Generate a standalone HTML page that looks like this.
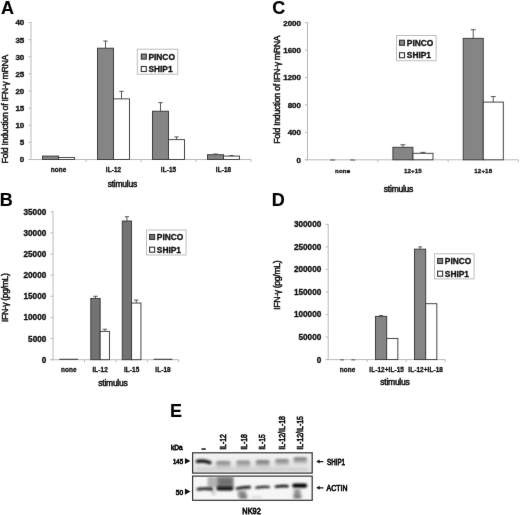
<!DOCTYPE html>
<html><head><meta charset="utf-8"><title>Figure</title>
<style>
html,body{margin:0;padding:0;background:#fff;}
body{width:520px;height:515px;overflow:hidden;}
svg{display:block;font-family:"Liberation Sans", sans-serif;}
text{stroke:#111;stroke-width:var(--sw,0.42px);paint-order:stroke;}
</style></head><body>
<svg width="520" height="515" viewBox="0 0 520 515">
<defs>
<filter id="b1" filterUnits="userSpaceOnUse" x="150" y="400" width="220" height="115"><feGaussianBlur stdDeviation="0.9"/></filter>
<filter id="b4" filterUnits="userSpaceOnUse" x="150" y="400" width="220" height="115"><feGaussianBlur stdDeviation="1.25"/></filter>
<filter id="b2" filterUnits="userSpaceOnUse" x="150" y="400" width="220" height="115"><feGaussianBlur stdDeviation="1.6"/></filter>
<filter id="b3" filterUnits="userSpaceOnUse" x="150" y="400" width="220" height="115"><feGaussianBlur stdDeviation="2.6"/></filter>
<filter id="soft" filterUnits="userSpaceOnUse" x="-10" y="-10" width="540" height="535" color-interpolation-filters="sRGB"><feConvolveMatrix order="3" kernelMatrix="0.0028 0.0470 0.0028 0.0470 0.8008 0.0470 0.0028 0.0470 0.0028" edgeMode="duplicate" preserveAlpha="true"/></filter>
</defs>
<rect width="520" height="515" fill="#fff"/>
<g filter="url(#soft)">
<rect x="-10" y="-10" width="540" height="535" fill="#fff"/>

<text x="0.9" y="14.0" style="font-size:18px;font-weight:bold;--sw:0.15px" fill="#000">A</text>
<text x="272.3" y="14.3" style="font-size:18px;font-weight:bold;--sw:0.15px" fill="#000">C</text>
<text x="-0.3" y="205.8" style="font-size:18px;font-weight:bold;--sw:0.15px" fill="#000">B</text>
<text x="271.8" y="205.7" style="font-size:18px;font-weight:bold;--sw:0.15px" fill="#000">D</text>
<text x="170.1" y="416.7" style="font-size:18px;font-weight:bold;--sw:0.15px" fill="#000">E</text>
<line x1="31" y1="22.0" x2="31" y2="160.0" stroke="#bababa" stroke-width="1"/>
<line x1="28.5" y1="159.5" x2="251" y2="159.5" stroke="#bababa" stroke-width="1"/>
<line x1="28.5" y1="159.5" x2="31" y2="159.5" stroke="#bababa" stroke-width="1"/>
<text x="24.3" y="162.38" text-anchor="end" style="font-size:8.0px;font-weight:bold;--sw:0.34px;" fill="#111">0</text>
<line x1="28.5" y1="142.375" x2="31" y2="142.375" stroke="#bababa" stroke-width="1"/>
<text x="24.3" y="145.255" text-anchor="end" style="font-size:8.0px;font-weight:bold;--sw:0.34px;" fill="#111">5</text>
<line x1="28.5" y1="125.25" x2="31" y2="125.25" stroke="#bababa" stroke-width="1"/>
<text x="24.3" y="128.13" text-anchor="end" style="font-size:8.0px;font-weight:bold;--sw:0.34px;" fill="#111">10</text>
<line x1="28.5" y1="108.125" x2="31" y2="108.125" stroke="#bababa" stroke-width="1"/>
<text x="24.3" y="111.005" text-anchor="end" style="font-size:8.0px;font-weight:bold;--sw:0.34px;" fill="#111">15</text>
<line x1="28.5" y1="91.0" x2="31" y2="91.0" stroke="#bababa" stroke-width="1"/>
<text x="24.3" y="93.88" text-anchor="end" style="font-size:8.0px;font-weight:bold;--sw:0.34px;" fill="#111">20</text>
<line x1="28.5" y1="73.875" x2="31" y2="73.875" stroke="#bababa" stroke-width="1"/>
<text x="24.3" y="76.755" text-anchor="end" style="font-size:8.0px;font-weight:bold;--sw:0.34px;" fill="#111">25</text>
<line x1="28.5" y1="56.75" x2="31" y2="56.75" stroke="#bababa" stroke-width="1"/>
<text x="24.3" y="59.63" text-anchor="end" style="font-size:8.0px;font-weight:bold;--sw:0.34px;" fill="#111">30</text>
<line x1="28.5" y1="39.625" x2="31" y2="39.625" stroke="#bababa" stroke-width="1"/>
<text x="24.3" y="42.505" text-anchor="end" style="font-size:8.0px;font-weight:bold;--sw:0.34px;" fill="#111">35</text>
<line x1="28.5" y1="22.5" x2="31" y2="22.5" stroke="#bababa" stroke-width="1"/>
<text x="24.3" y="25.38" text-anchor="end" style="font-size:8.0px;font-weight:bold;--sw:0.34px;" fill="#111">40</text>
<line x1="86.0" y1="159.5" x2="86.0" y2="162.0" stroke="#bababa" stroke-width="1"/>
<line x1="141.0" y1="159.5" x2="141.0" y2="162.0" stroke="#bababa" stroke-width="1"/>
<line x1="196.0" y1="159.5" x2="196.0" y2="162.0" stroke="#bababa" stroke-width="1"/>
<line x1="251.0" y1="159.5" x2="251.0" y2="162.0" stroke="#bababa" stroke-width="1"/>
<rect x="42.50" y="156.07" width="16.00" height="3.42" fill="#858585" stroke="#333" stroke-width="0.9"/>
<rect x="58.50" y="157.44" width="16.00" height="2.06" fill="#fff" stroke="#333" stroke-width="0.9"/>
<text x="58.5" y="171.9" text-anchor="middle" style="font-size:6.4px;font-weight:bold;--sw:0.34px;letter-spacing:0.1px;--sw:0.3px;" fill="#111">none</text>
<rect x="97.50" y="48.19" width="16.00" height="111.31" fill="#858585" stroke="#333" stroke-width="0.9"/>
<line x1="105.5" y1="48.1875" x2="105.5" y2="40.995" stroke="#444" stroke-width="0.9"/>
<line x1="103.3" y1="40.995" x2="107.7" y2="40.995" stroke="#444" stroke-width="0.9"/>
<rect x="113.50" y="98.88" width="16.00" height="60.62" fill="#fff" stroke="#333" stroke-width="0.9"/>
<line x1="121.5" y1="98.8775" x2="121.5" y2="91.3425" stroke="#444" stroke-width="0.9"/>
<line x1="119.3" y1="91.3425" x2="123.7" y2="91.3425" stroke="#444" stroke-width="0.9"/>
<text x="113.5" y="171.9" text-anchor="middle" style="font-size:6.4px;font-weight:bold;--sw:0.34px;letter-spacing:0.1px;--sw:0.3px;" fill="#111">IL-12</text>
<rect x="152.50" y="111.21" width="16.00" height="48.29" fill="#858585" stroke="#333" stroke-width="0.9"/>
<line x1="160.5" y1="111.2075" x2="160.5" y2="102.645" stroke="#444" stroke-width="0.9"/>
<line x1="158.3" y1="102.645" x2="162.7" y2="102.645" stroke="#444" stroke-width="0.9"/>
<rect x="168.50" y="139.63" width="16.00" height="19.87" fill="#fff" stroke="#333" stroke-width="0.9"/>
<line x1="176.5" y1="139.635" x2="176.5" y2="136.89499999999998" stroke="#444" stroke-width="0.9"/>
<line x1="174.3" y1="136.89499999999998" x2="178.7" y2="136.89499999999998" stroke="#444" stroke-width="0.9"/>
<text x="168.5" y="171.9" text-anchor="middle" style="font-size:6.4px;font-weight:bold;--sw:0.34px;letter-spacing:0.1px;--sw:0.3px;" fill="#111">IL-15</text>
<rect x="207.50" y="154.71" width="16.00" height="4.79" fill="#858585" stroke="#333" stroke-width="0.9"/>
<line x1="215.5" y1="154.705" x2="215.5" y2="154.02" stroke="#444" stroke-width="0.9"/>
<line x1="213.3" y1="154.02" x2="217.7" y2="154.02" stroke="#444" stroke-width="0.9"/>
<rect x="223.50" y="156.07" width="16.00" height="3.42" fill="#fff" stroke="#333" stroke-width="0.9"/>
<line x1="231.5" y1="156.075" x2="231.5" y2="155.56125" stroke="#444" stroke-width="0.9"/>
<line x1="229.3" y1="155.56125" x2="233.7" y2="155.56125" stroke="#444" stroke-width="0.9"/>
<text x="223.5" y="171.9" text-anchor="middle" style="font-size:6.4px;font-weight:bold;--sw:0.34px;letter-spacing:0.1px;--sw:0.3px;" fill="#111">IL-18</text>
<rect x="137.3" y="49.2" width="40.4" height="25.0" fill="#fff" stroke="#bdbdbd" stroke-width="1"/>
<rect x="141.30" y="54.10" width="5.00" height="5.00" fill="#858585" stroke="#333" stroke-width="1.1"/>
<text x="148.4" y="59.5" text-anchor="start" style="font-size:8.4px;font-weight:bold;--sw:0.34px;" fill="#111">PINCO</text>
<rect x="141.30" y="66.50" width="5.00" height="5.00" fill="#fff" stroke="#333" stroke-width="1.1"/>
<text x="148.4" y="71.9" text-anchor="start" style="font-size:8.4px;font-weight:bold;--sw:0.34px;" fill="#111">SHIP1</text>
<text x="7.9" y="109" text-anchor="middle" style="font-size:8.8px;--sw:0.45px;" fill="#111" transform="rotate(-90 7.9 109)" textLength="109" lengthAdjust="spacing">Fold Induction of IFN-&#947; mRNA</text>
<text x="122.4" y="187.3" text-anchor="middle" style="font-size:8.5px;--sw:0.5px;" fill="#111" textLength="29.5" lengthAdjust="spacing">stimulus</text>
<line x1="307.5" y1="22.2" x2="307.5" y2="160.3" stroke="#bababa" stroke-width="1"/>
<line x1="305.0" y1="159.8" x2="518.4" y2="159.8" stroke="#bababa" stroke-width="1"/>
<line x1="305.0" y1="159.8" x2="307.5" y2="159.8" stroke="#bababa" stroke-width="1"/>
<text x="301" y="162.68" text-anchor="end" style="font-size:8.0px;font-weight:bold;--sw:0.34px;" fill="#111">0</text>
<line x1="305.0" y1="132.38" x2="307.5" y2="132.38" stroke="#bababa" stroke-width="1"/>
<text x="301" y="135.26" text-anchor="end" style="font-size:8.0px;font-weight:bold;--sw:0.34px;" fill="#111">400</text>
<line x1="305.0" y1="104.96000000000001" x2="307.5" y2="104.96000000000001" stroke="#bababa" stroke-width="1"/>
<text x="301" y="107.84" text-anchor="end" style="font-size:8.0px;font-weight:bold;--sw:0.34px;" fill="#111">800</text>
<line x1="305.0" y1="77.53999999999999" x2="307.5" y2="77.53999999999999" stroke="#bababa" stroke-width="1"/>
<text x="301" y="80.41999999999999" text-anchor="end" style="font-size:8.0px;font-weight:bold;--sw:0.34px;" fill="#111">1200</text>
<line x1="305.0" y1="50.11999999999999" x2="307.5" y2="50.11999999999999" stroke="#bababa" stroke-width="1"/>
<text x="301" y="52.99999999999999" text-anchor="end" style="font-size:8.0px;font-weight:bold;--sw:0.34px;" fill="#111">1600</text>
<line x1="305.0" y1="22.69999999999999" x2="307.5" y2="22.69999999999999" stroke="#bababa" stroke-width="1"/>
<text x="301" y="25.579999999999988" text-anchor="end" style="font-size:8.0px;font-weight:bold;--sw:0.34px;" fill="#111">2000</text>
<line x1="377.8" y1="159.8" x2="377.8" y2="162.3" stroke="#bababa" stroke-width="1"/>
<line x1="448.1" y1="159.8" x2="448.1" y2="162.3" stroke="#bababa" stroke-width="1"/>
<line x1="518.4" y1="159.8" x2="518.4" y2="162.3" stroke="#bababa" stroke-width="1"/>
<line x1="330.12499999999994" y1="160.0" x2="335.12499999999994" y2="160.0" stroke="#707070" stroke-width="1.3"/>
<line x1="350.17499999999995" y1="160.0" x2="355.17499999999995" y2="160.0" stroke="#707070" stroke-width="1.3"/>
<text x="342.65" y="172.6" text-anchor="middle" style="font-size:6.2px;font-weight:bold;--sw:0.34px;letter-spacing:0.1px;--sw:0.3px;" fill="#111">none</text>
<rect x="392.90" y="147.26" width="20.05" height="12.54" fill="#858585" stroke="#333" stroke-width="0.9"/>
<line x1="402.92499999999995" y1="147.25535000000002" x2="402.92499999999995" y2="144.78755" stroke="#444" stroke-width="0.9"/>
<line x1="400.42499999999995" y1="144.78755" x2="405.42499999999995" y2="144.78755" stroke="#444" stroke-width="0.9"/>
<rect x="412.95" y="153.29" width="20.05" height="6.51" fill="#fff" stroke="#333" stroke-width="0.9"/>
<line x1="422.97499999999997" y1="153.28775000000002" x2="422.97499999999997" y2="152.3966" stroke="#444" stroke-width="0.9"/>
<line x1="420.47499999999997" y1="152.3966" x2="425.47499999999997" y2="152.3966" stroke="#444" stroke-width="0.9"/>
<text x="412.95" y="172.6" text-anchor="middle" style="font-size:6.2px;font-weight:bold;--sw:0.34px;letter-spacing:0.1px;--sw:0.3px;" fill="#111">12+15</text>
<rect x="463.20" y="38.33" width="20.05" height="121.47" fill="#858585" stroke="#333" stroke-width="0.9"/>
<line x1="473.22499999999997" y1="38.32939999999999" x2="473.22499999999997" y2="29.76064999999999" stroke="#444" stroke-width="0.9"/>
<line x1="470.72499999999997" y1="29.76064999999999" x2="475.72499999999997" y2="29.76064999999999" stroke="#444" stroke-width="0.9"/>
<rect x="483.25" y="102.08" width="20.05" height="57.72" fill="#fff" stroke="#333" stroke-width="0.9"/>
<line x1="493.275" y1="102.0809" x2="493.275" y2="96.5969" stroke="#444" stroke-width="0.9"/>
<line x1="490.775" y1="96.5969" x2="495.775" y2="96.5969" stroke="#444" stroke-width="0.9"/>
<text x="483.25" y="172.6" text-anchor="middle" style="font-size:6.2px;font-weight:bold;--sw:0.34px;letter-spacing:0.1px;--sw:0.3px;" fill="#111">12+18</text>
<rect x="396.5" y="35.5" width="39.6" height="25.2" fill="#fff" stroke="#bdbdbd" stroke-width="1"/>
<rect x="399.50" y="40.25" width="5.00" height="5.00" fill="#858585" stroke="#333" stroke-width="1.1"/>
<text x="406.8" y="45.65" text-anchor="start" style="font-size:8.4px;font-weight:bold;--sw:0.34px;" fill="#111">PINCO</text>
<rect x="399.50" y="52.75" width="5.00" height="5.00" fill="#fff" stroke="#333" stroke-width="1.1"/>
<text x="406.8" y="58.15" text-anchor="start" style="font-size:8.4px;font-weight:bold;--sw:0.34px;" fill="#111">SHIP1</text>
<text x="279.5" y="89.5" text-anchor="middle" style="font-size:8.8px;--sw:0.45px;" fill="#111" transform="rotate(-90 279.5 89.5)" textLength="108.5" lengthAdjust="spacing">Fold Induction of IFN-&#947; mRNA</text>
<text x="398.6" y="191.5" text-anchor="middle" style="font-size:8.5px;--sw:0.5px;" fill="#111" textLength="29.5" lengthAdjust="spacing">stimulus</text>
<line x1="53" y1="211.2" x2="53" y2="360.2" stroke="#bababa" stroke-width="1"/>
<line x1="50.5" y1="359.7" x2="178.75" y2="359.7" stroke="#bababa" stroke-width="1"/>
<line x1="50.5" y1="359.7" x2="53" y2="359.7" stroke="#bababa" stroke-width="1"/>
<text x="46.3" y="362.652" text-anchor="end" style="font-size:8.2px;font-weight:bold;--sw:0.34px;" fill="#111">0</text>
<line x1="50.5" y1="338.5571428571428" x2="53" y2="338.5571428571428" stroke="#bababa" stroke-width="1"/>
<text x="46.3" y="341.5091428571428" text-anchor="end" style="font-size:8.2px;font-weight:bold;--sw:0.34px;" fill="#111">5000</text>
<line x1="50.5" y1="317.4142857142857" x2="53" y2="317.4142857142857" stroke="#bababa" stroke-width="1"/>
<text x="46.3" y="320.3662857142857" text-anchor="end" style="font-size:8.2px;font-weight:bold;--sw:0.34px;" fill="#111">10000</text>
<line x1="50.5" y1="296.27142857142854" x2="53" y2="296.27142857142854" stroke="#bababa" stroke-width="1"/>
<text x="46.3" y="299.22342857142854" text-anchor="end" style="font-size:8.2px;font-weight:bold;--sw:0.34px;" fill="#111">15000</text>
<line x1="50.5" y1="275.12857142857143" x2="53" y2="275.12857142857143" stroke="#bababa" stroke-width="1"/>
<text x="46.3" y="278.08057142857143" text-anchor="end" style="font-size:8.2px;font-weight:bold;--sw:0.34px;" fill="#111">20000</text>
<line x1="50.5" y1="253.98571428571427" x2="53" y2="253.98571428571427" stroke="#bababa" stroke-width="1"/>
<text x="46.3" y="256.93771428571426" text-anchor="end" style="font-size:8.2px;font-weight:bold;--sw:0.34px;" fill="#111">25000</text>
<line x1="50.5" y1="232.84285714285713" x2="53" y2="232.84285714285713" stroke="#bababa" stroke-width="1"/>
<text x="46.3" y="235.79485714285713" text-anchor="end" style="font-size:8.2px;font-weight:bold;--sw:0.34px;" fill="#111">30000</text>
<line x1="50.5" y1="211.7" x2="53" y2="211.7" stroke="#bababa" stroke-width="1"/>
<text x="46.3" y="214.652" text-anchor="end" style="font-size:8.2px;font-weight:bold;--sw:0.34px;" fill="#111">35000</text>
<line x1="84.4375" y1="359.7" x2="84.4375" y2="362.2" stroke="#bababa" stroke-width="1"/>
<line x1="115.875" y1="359.7" x2="115.875" y2="362.2" stroke="#bababa" stroke-width="1"/>
<line x1="147.3125" y1="359.7" x2="147.3125" y2="362.2" stroke="#bababa" stroke-width="1"/>
<line x1="178.75" y1="359.7" x2="178.75" y2="362.2" stroke="#bababa" stroke-width="1"/>
<line x1="59.36875" y1="359.3" x2="68.71875" y2="359.3" stroke="#3c3c3c" stroke-width="1.1"/>
<line x1="68.71875" y1="359.3" x2="78.06875" y2="359.3" stroke="#3c3c3c" stroke-width="1.1"/>
<text x="68.71875" y="372.1" text-anchor="middle" style="font-size:6.4px;font-weight:bold;--sw:0.34px;letter-spacing:0.1px;--sw:0.3px;" fill="#111">none</text>
<rect x="90.81" y="298.39" width="9.35" height="61.31" fill="#737373" stroke="#333" stroke-width="0.9"/>
<line x1="95.48125" y1="298.38571428571424" x2="95.48125" y2="296.27142857142854" stroke="#444" stroke-width="0.9"/>
<line x1="93.28125" y1="296.27142857142854" x2="97.68125" y2="296.27142857142854" stroke="#444" stroke-width="0.9"/>
<rect x="100.16" y="331.37" width="9.35" height="28.33" fill="#fff" stroke="#333" stroke-width="0.9"/>
<line x1="104.83125" y1="331.36857142857144" x2="104.83125" y2="329.25428571428574" stroke="#444" stroke-width="0.9"/>
<line x1="102.63125" y1="329.25428571428574" x2="107.03125" y2="329.25428571428574" stroke="#444" stroke-width="0.9"/>
<text x="100.15625" y="372.1" text-anchor="middle" style="font-size:6.4px;font-weight:bold;--sw:0.34px;letter-spacing:0.1px;--sw:0.3px;" fill="#111">IL-12</text>
<rect x="122.24" y="221.00" width="9.35" height="138.70" fill="#737373" stroke="#333" stroke-width="0.9"/>
<line x1="126.91875" y1="221.00285714285712" x2="126.91875" y2="216.7742857142857" stroke="#444" stroke-width="0.9"/>
<line x1="124.71875" y1="216.7742857142857" x2="129.11875" y2="216.7742857142857" stroke="#444" stroke-width="0.9"/>
<rect x="131.59" y="303.04" width="9.35" height="56.66" fill="#fff" stroke="#333" stroke-width="0.9"/>
<line x1="136.26875" y1="303.03714285714284" x2="136.26875" y2="300.07714285714286" stroke="#444" stroke-width="0.9"/>
<line x1="134.06875000000002" y1="300.07714285714286" x2="138.46875" y2="300.07714285714286" stroke="#444" stroke-width="0.9"/>
<text x="131.59375" y="372.1" text-anchor="middle" style="font-size:6.4px;font-weight:bold;--sw:0.34px;letter-spacing:0.1px;--sw:0.3px;" fill="#111">IL-15</text>
<line x1="153.68125" y1="359.3" x2="163.03125" y2="359.3" stroke="#3c3c3c" stroke-width="1.1"/>
<line x1="163.03125" y1="359.3" x2="172.38125" y2="359.3" stroke="#3c3c3c" stroke-width="1.1"/>
<text x="163.03125" y="372.1" text-anchor="middle" style="font-size:6.4px;font-weight:bold;--sw:0.34px;letter-spacing:0.1px;--sw:0.3px;" fill="#111">IL-18</text>
<rect x="146.5" y="230" width="39.6" height="25" fill="#fff" stroke="#bdbdbd" stroke-width="1"/>
<rect x="149.60" y="234.50" width="5.00" height="5.00" fill="#737373" stroke="#333" stroke-width="1.1"/>
<text x="156.8" y="239.9" text-anchor="start" style="font-size:8.4px;font-weight:bold;--sw:0.34px;" fill="#111">PINCO</text>
<rect x="149.60" y="247.20" width="5.00" height="5.00" fill="#fff" stroke="#333" stroke-width="1.1"/>
<text x="156.8" y="252.6" text-anchor="start" style="font-size:8.4px;font-weight:bold;--sw:0.34px;" fill="#111">SHIP1</text>
<text x="8.4" y="297.5" text-anchor="middle" style="font-size:8.8px;--sw:0.45px;" fill="#111" transform="rotate(-90 8.4 297.5)" textLength="49" lengthAdjust="spacing">IFN-&#947; (pg/mL)</text>
<text x="113" y="385.8" text-anchor="middle" style="font-size:8.5px;--sw:0.5px;" fill="#111" textLength="29.5" lengthAdjust="spacing">stimulus</text>
<line x1="328.2" y1="223.85" x2="328.2" y2="360.1" stroke="#bababa" stroke-width="1"/>
<line x1="325.7" y1="359.6" x2="445.2" y2="359.6" stroke="#bababa" stroke-width="1"/>
<line x1="325.7" y1="359.6" x2="328.2" y2="359.6" stroke="#bababa" stroke-width="1"/>
<text x="321.25" y="362.552" text-anchor="end" style="font-size:8.2px;font-weight:bold;--sw:0.34px;" fill="#111">0</text>
<line x1="325.7" y1="337.05833333333334" x2="328.2" y2="337.05833333333334" stroke="#bababa" stroke-width="1"/>
<text x="321.25" y="340.01033333333334" text-anchor="end" style="font-size:8.2px;font-weight:bold;--sw:0.34px;" fill="#111">50000</text>
<line x1="325.7" y1="314.51666666666665" x2="328.2" y2="314.51666666666665" stroke="#bababa" stroke-width="1"/>
<text x="321.25" y="317.46866666666665" text-anchor="end" style="font-size:8.2px;font-weight:bold;--sw:0.34px;" fill="#111">100000</text>
<line x1="325.7" y1="291.975" x2="328.2" y2="291.975" stroke="#bababa" stroke-width="1"/>
<text x="321.25" y="294.927" text-anchor="end" style="font-size:8.2px;font-weight:bold;--sw:0.34px;" fill="#111">150000</text>
<line x1="325.7" y1="269.43333333333334" x2="328.2" y2="269.43333333333334" stroke="#bababa" stroke-width="1"/>
<text x="321.25" y="272.38533333333334" text-anchor="end" style="font-size:8.2px;font-weight:bold;--sw:0.34px;" fill="#111">200000</text>
<line x1="325.7" y1="246.89166666666665" x2="328.2" y2="246.89166666666665" stroke="#bababa" stroke-width="1"/>
<text x="321.25" y="249.84366666666665" text-anchor="end" style="font-size:8.2px;font-weight:bold;--sw:0.34px;" fill="#111">250000</text>
<line x1="325.7" y1="224.35" x2="328.2" y2="224.35" stroke="#bababa" stroke-width="1"/>
<text x="321.25" y="227.302" text-anchor="end" style="font-size:8.2px;font-weight:bold;--sw:0.34px;" fill="#111">300000</text>
<line x1="367.2" y1="359.6" x2="367.2" y2="362.1" stroke="#bababa" stroke-width="1"/>
<line x1="406.2" y1="359.6" x2="406.2" y2="362.1" stroke="#bababa" stroke-width="1"/>
<line x1="445.2" y1="359.6" x2="445.2" y2="362.1" stroke="#bababa" stroke-width="1"/>
<line x1="340.225" y1="359.8" x2="344.025" y2="359.8" stroke="#707070" stroke-width="1.3"/>
<line x1="351.375" y1="359.8" x2="355.17499999999995" y2="359.8" stroke="#707070" stroke-width="1.3"/>
<text x="347.7" y="372" text-anchor="middle" style="font-size:6.4px;font-weight:bold;--sw:0.34px;letter-spacing:0.1px;--sw:0.3px;" fill="#111">none</text>
<rect x="375.55" y="316.32" width="11.15" height="43.28" fill="#858585" stroke="#333" stroke-width="0.9"/>
<line x1="381.125" y1="316.32" x2="381.125" y2="315.50849999999997" stroke="#444" stroke-width="0.9"/>
<line x1="379.225" y1="315.50849999999997" x2="383.025" y2="315.50849999999997" stroke="#444" stroke-width="0.9"/>
<rect x="386.70" y="338.41" width="11.15" height="21.19" fill="#fff" stroke="#333" stroke-width="0.9"/>
<text x="386.7" y="372" text-anchor="middle" style="font-size:6.4px;font-weight:bold;--sw:0.34px;letter-spacing:0.1px;--sw:0.3px;" fill="#111">IL-12+IL-15</text>
<rect x="414.55" y="249.15" width="11.15" height="110.45" fill="#858585" stroke="#333" stroke-width="0.9"/>
<line x1="420.125" y1="249.14583333333331" x2="420.125" y2="246.89166666666665" stroke="#444" stroke-width="0.9"/>
<line x1="418.225" y1="246.89166666666665" x2="422.025" y2="246.89166666666665" stroke="#444" stroke-width="0.9"/>
<rect x="425.70" y="303.70" width="11.15" height="55.90" fill="#fff" stroke="#333" stroke-width="0.9"/>
<text x="425.7" y="372" text-anchor="middle" style="font-size:6.4px;font-weight:bold;--sw:0.34px;letter-spacing:0.1px;--sw:0.3px;" fill="#111">IL-12+IL-18</text>
<rect x="434.5" y="253.8" width="39.6" height="25.1" fill="#fff" stroke="#bdbdbd" stroke-width="1"/>
<rect x="437.60" y="258.50" width="5.00" height="5.00" fill="#858585" stroke="#333" stroke-width="1.1"/>
<text x="444.8" y="263.9" text-anchor="start" style="font-size:8.4px;font-weight:bold;--sw:0.34px;" fill="#111">PINCO</text>
<rect x="437.60" y="271.20" width="5.00" height="5.00" fill="#fff" stroke="#333" stroke-width="1.1"/>
<text x="444.8" y="276.59999999999997" text-anchor="start" style="font-size:8.4px;font-weight:bold;--sw:0.34px;" fill="#111">SHIP1</text>
<text x="279.7" y="285" text-anchor="middle" style="font-size:8.8px;--sw:0.45px;" fill="#111" transform="rotate(-90 279.7 285)" textLength="49.6" lengthAdjust="spacing">IFN-&#947; (pg/mL)</text>
<text x="395" y="385.0" text-anchor="middle" style="font-size:8.5px;--sw:0.5px;" fill="#111" textLength="29.5" lengthAdjust="spacing">stimulus</text>
<!-- Panel E : western blot -->
<g>
<linearGradient id="bg1" x1="0" y1="0" x2="0" y2="1"><stop offset="0" stop-color="#f4f4f4"/><stop offset="0.45" stop-color="#eaeaea"/><stop offset="1" stop-color="#e2e2e2"/></linearGradient>
<rect x="192.6" y="452.8" width="119.6" height="20.3" fill="url(#bg1)" stroke="#333" stroke-width="1.2"/>
<rect x="192.6" y="476.1" width="119.6" height="24.2" fill="#f6f6f6" stroke="#333" stroke-width="1.2"/>
<clipPath id="c1"><rect x="193.2" y="453.4" width="118.4" height="19.1"/></clipPath>
<clipPath id="c2"><rect x="193.2" y="476.7" width="118.4" height="23"/></clipPath>
<g clip-path="url(#c1)">
  <!-- faint lower bands -->
  <rect x="197" y="467.6" width="111" height="3.2" fill="#cdcdcd" filter="url(#b2)"/>
  <!-- main bands -->
  <path d="M197.4 461.4 Q203.5 460.2 209.8 462.6" stroke="#101010" stroke-width="3.4" stroke-linecap="round" fill="none" filter="url(#b1)"/>
  <rect x="215.8" y="462.59999999999997" width="15" height="5" rx="2" fill="#b9b9b9" filter="url(#b2)"/>
  <rect x="216.3" y="461.0" width="14" height="3.6" rx="1.8" fill="#929292" filter="url(#b4)"/>
  <rect x="236" y="462.2" width="14.5" height="5" rx="2" fill="#b9b9b9" filter="url(#b2)"/>
  <rect x="236.5" y="460.6" width="13.5" height="3.6" rx="1.8" fill="#969696" filter="url(#b4)"/>
  <rect x="255.4" y="461.7" width="14.6" height="5" rx="2" fill="#b9b9b9" filter="url(#b2)"/>
  <rect x="255.9" y="460.1" width="13.6" height="3.6" rx="1.8" fill="#868686" filter="url(#b4)"/>
  <rect x="274.8" y="460.5" width="14.4" height="5" rx="2" fill="#b9b9b9" filter="url(#b2)"/>
  <rect x="275.3" y="458.90000000000003" width="13.4" height="3.6" rx="1.8" fill="#8e8e8e" filter="url(#b4)"/>
  <rect x="293.2" y="458.8" width="14.2" height="5" rx="2" fill="#b9b9b9" filter="url(#b2)"/>
  <rect x="293.7" y="457.20000000000005" width="13.2" height="3.6" rx="1.8" fill="#868686" filter="url(#b4)"/>
</g>
<g clip-path="url(#c2)">
  <!-- smear above lanes 1-2 -->
  <rect x="207.5" y="477" width="11" height="10.5" fill="#b2b2b2" filter="url(#b4)"/>
  <rect x="211.5" y="489" width="4" height="6" fill="#d0d0d0" filter="url(#b4)"/>
  <rect x="217" y="476.4" width="16.6" height="11.4" fill="#8c8c8c" filter="url(#b1)"/>
  <rect x="219" y="478.5" width="13" height="7" fill="#707070" filter="url(#b2)"/>
  <!-- bands -->
  <path d="M198 489.2 Q204 488.3 211.6 489" stroke="#1a1a1a" stroke-width="2.8" stroke-linecap="round" fill="none" filter="url(#b1)"/>
  <path d="M218.4 488.4 H231.4" stroke="#080808" stroke-width="4" stroke-linecap="round" fill="none" filter="url(#b1)"/>
  <path d="M237 488.5 Q243 487.4 249.6 487.2" stroke="#0c0c0c" stroke-width="2.7" stroke-linecap="round" fill="none" filter="url(#b1)"/>
  <rect x="238" y="490.5" width="8" height="6" fill="#8c8c8c" filter="url(#b2)"/>
  <rect x="239.5" y="495.4" width="7.5" height="3" fill="#5a5a5a" filter="url(#b2)"/>
  <rect x="252" y="496.6" width="10" height="1.6" fill="#d2d2d2" filter="url(#b1)"/>
  <path d="M256.4 487.6 Q262 486.6 269 487" stroke="#161616" stroke-width="2.1" stroke-linecap="round" fill="none" filter="url(#b1)"/>
  <path d="M275.8 486.6 Q282 485.8 287.6 486.2" stroke="#040404" stroke-width="2.4" stroke-linecap="round" fill="none" filter="url(#b1)"/>
  <path d="M294.4 485.6 H305" stroke="#000" stroke-width="4.4" stroke-linecap="round" fill="none" filter="url(#b1)"/>
  <rect x="294" y="489" width="6.5" height="7" fill="#929292" filter="url(#b2)"/>
  <rect x="293.6" y="495.2" width="7.6" height="3" fill="#5c5c5c" filter="url(#b2)"/>
</g>
<g fill="#111" style="--sw:0.75px">
<text transform="translate(171 449.7) scale(0.84 1)" style="font-size:7.8px">kDa</text>
<text transform="translate(172.9 464) scale(0.79 1)" style="font-size:7.8px">145</text>
<text transform="translate(175.8 494.9) scale(0.85 1)" style="font-size:7.8px">50</text>
<text transform="translate(327 464.6) scale(0.71 1)" style="font-size:8.8px">SHIP1</text>
<text transform="translate(326.6 490.7) scale(0.79 1)" style="font-size:8.8px">ACTIN</text>
<text transform="translate(242.3 513.6) scale(0.86 1)" style="font-size:8.6px">NK92</text>
</g>
<path d="M184.9 457.9 L190.4 461 L184.9 464.1 Z M184.9 488.5 L190.4 491.6 L184.9 494.7 Z" fill="#111"/>
<path d="M318 461.6 H323.4 M318 487.8 H323.4" stroke="#111" stroke-width="1.3" fill="none"/>
<path d="M316.2 461.6 L319.6 459.6 V463.6 Z M316.2 487.8 L319.6 485.8 V489.8 Z" fill="#111"/>
<g fill="#111" style="--sw:0.65px">
  <rect x="201.5" y="448.3" width="4.2" height="1.5"/>
<text transform="translate(226.1 449.8) rotate(-90) scale(0.775 1)" style="font-size:8.8px">IL-12</text>
<text transform="translate(246.9 449.8) rotate(-90) scale(0.775 1)" style="font-size:8.8px">IL-18</text>
<text transform="translate(265.1 449.8) rotate(-90) scale(0.775 1)" style="font-size:8.8px">IL-15</text>
<text transform="translate(284.5 449.8) rotate(-90) scale(0.795 1)" style="font-size:8.8px">IL-12/IL-18</text>
<text transform="translate(302.9 449.8) rotate(-90) scale(0.795 1)" style="font-size:8.8px">IL-12/IL-15</text>
</g>
</g>

</g>
</svg>
</body></html>
